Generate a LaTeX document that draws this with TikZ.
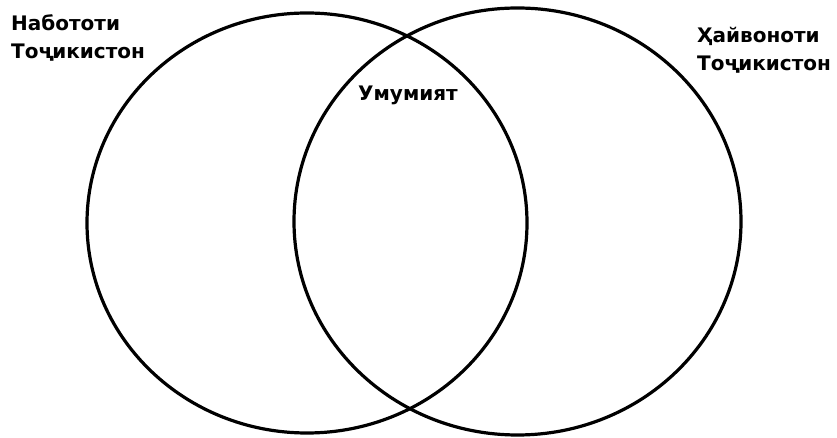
\documentclass[tikz,border=0pt]{standalone}
\usepackage{fontspec}
\setmainfont{DejaVu Sans}
\begin{document}
\begin{tikzpicture}
[
	x=1pt,
	y=1pt,
	setline/.style={line width=3.2pt},
	setname/.style={font=\bfseries\fontsize{20}{28}\selectfont,align=left,inner sep=0pt,anchor=north west},
	common/.style={font=\bfseries\fontsize{20}{24}\selectfont,inner sep=0pt}
]

	\useasboundingbox (0,0) rectangle (837,438);

	\coordinate (lcentre) at (307,215);
	\coordinate (rcentre) at (517.5,216.5);

	% the two sets
	\draw[setline] (lcentre) ellipse [x radius=220, y radius=210];
	\draw[setline] (rcentre) ellipse [x radius=223.5, y radius=213.5];

	\node[setname] (plants) at (11,424) {Набототи\\Тоҷикистон};
	\node[setname] (animals) at (697,411) {Ҳайвоноти\\Тоҷикистон};
	\node[common] (both) at (408,343) {Умумият};

\end{tikzpicture}
\end{document}
